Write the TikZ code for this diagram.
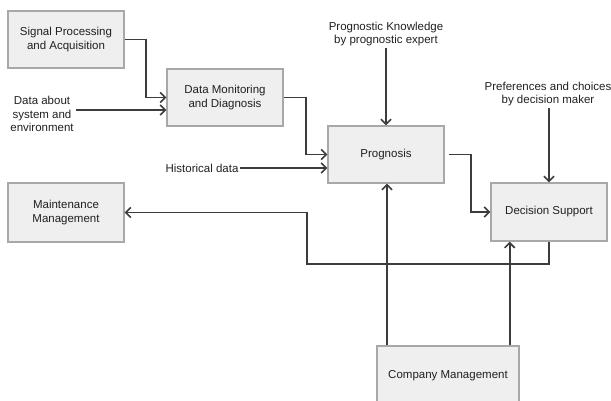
\documentclass[tikz,border=0pt]{standalone}
\usepackage{fontspec}
\setmainfont{Liberation Sans}
\usetikzlibrary{arrows.meta,calc}
\definecolor{boxfill}{HTML}{EFEFEF}
\definecolor{boxline}{HTML}{A8A8A8}
\definecolor{arrcol}{HTML}{3C3C3C}
\definecolor{txt}{HTML}{202020}
\begin{document}
\begin{tikzpicture}[x=1pt,y=-1pt,
  font=\fontsize{11.5}{13.5}\selectfont, text=txt,
  blk/.style={draw=boxline, fill=boxfill, line width=1.4pt, minimum width=116pt, minimum height=57pt, align=center, inner sep=0pt},
  lbl/.style={align=center, inner sep=2pt},
  arr/.style={draw=arrcol, line width=1.8pt, -{Straight Barb[length=5pt,width=10pt,line width=1.6pt]}},
  ln/.style={draw=arrcol, line width=1.8pt}]
\useasboundingbox (0,0) rectangle (611,401);
% boxes
\node[blk] (sp) at (66,39.5) {Signal Processing\\and Acquisition};
\node[blk] (dm) at (225,97.5) {Data Monitoring\\and Diagnosis};
\node[blk] (prog) at (386,154.5) {Prognosis};
\node[blk, minimum height=58pt] (ds) at (549,212) {Decision Support};
\node[blk, minimum height=59pt] (mm) at (66,212.5) {Maintenance\\Management};
\node[blk, minimum width=142pt, minimum height=60pt] (cm) at (448,376) {Company Management};
% labels
\node[lbl] (data) at (42,114) {Data about\\system and\\environment};
\node[lbl, inner sep=1pt] (hist) at (202,168) {Historical data};
\node[lbl] (pk) at (386,34) {Prognostic Knowledge\\by prognostic expert};
\node[lbl] (pref) at (548,94) {Preferences and choices\\by decision maker};
% connectors
\draw[arr] (sp.east) -- ++(21,0) |- (dm.west);
\draw[arr] ([yshift=4pt]data.east) -- ([yshift=4pt]data.east -| dm.west);
\draw[arr] (dm.east) -- ++(22,0) |- (prog.west);
\draw[arr] (hist.east) -- (hist.east -| prog.west);
\draw[arr] (pk.south) -- (prog.north);
\draw[arr] ([xshift=4pt]prog.east) -- ++(22,0) |- (ds.west);
\draw[arr] (pref.south -| ds.north) -- (ds.north);
\coordinate (c1) at (307,264);
\draw[arr] (ds.south) |- (c1) |- (mm.east);
\draw[arr] ([xshift=1pt]prog.south |- cm.north) -- ([xshift=1pt]prog.south);
\draw[arr] ([xshift=-10pt]cm.north east) -- ([xshift=-10pt]cm.north east |- ds.south);
\end{tikzpicture}
\end{document}
